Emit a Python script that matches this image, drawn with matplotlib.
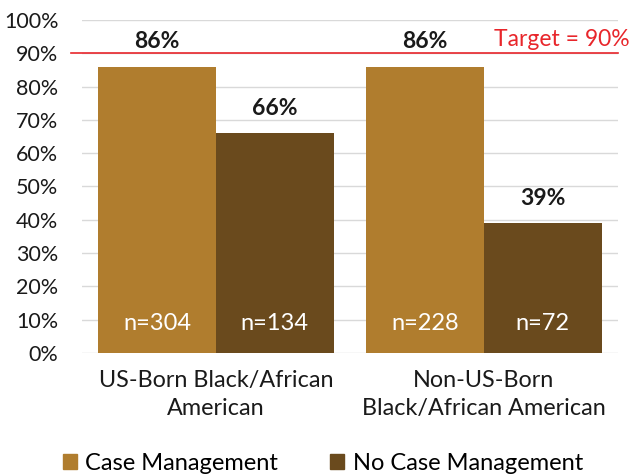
import numpy as np
import matplotlib
matplotlib.use("Agg")
import matplotlib.pyplot as plt
from matplotlib.patches import Patch

plt.rcParams['font.family'] = ['Lato', 'DejaVu Sans']

categories = ['US-Born Black/African\nAmerican', 'Non-US-Born\nBlack/African American']
series_names = ['Case Management', 'No Case Management']
case_mgmt = [86, 86]
no_case_mgmt = [66, 39]
n_case = [304, 228]
n_nocase = [134, 72]
target = 90
colors = ['#B07D2E', '#6A4A1D']

fig = plt.figure(figsize=(6.33, 4.76), dpi=100)
ax = fig.add_axes([0.1295, 0.2584, 0.8465, 0.6996])

x = np.arange(len(categories))
w = 0.44
b1 = ax.bar(x - w / 2, case_mgmt, w, color=colors[0], zorder=2)
b2 = ax.bar(x + w / 2, no_case_mgmt, w, color=colors[1], zorder=2)

for bars, vals, ns in [(b1, case_mgmt, n_case), (b2, no_case_mgmt, n_nocase)]:
    for rect, v, n in zip(bars, vals, ns):
        cx = rect.get_x() + rect.get_width() / 2
        ax.annotate('%d%%' % v, (cx, v), xytext=(0, 18), textcoords='offset points',
                    ha='center', va='center', fontsize=16.5, fontweight='bold', color='#1a1a1a')
        ax.text(cx, 9, 'n=%d' % n, ha='center', va='center', fontsize=17, color='white', zorder=3)

# target line, runs a bit left of the axes
ax.plot([-0.02, 1.0], [target, target], color='#E8262B', lw=1.2,
        transform=ax.get_yaxis_transform(), clip_on=False, zorder=3)
ax.text(1.022, target + 1.0, 'Target = 90%', color='#E8262B', fontsize=16.5,
        ha='right', va='bottom', transform=ax.get_yaxis_transform())

ax.set_xlim(-0.5, 1.5)
ax.set_ylim(0, 100)
ax.set_yticks(np.arange(0, 101, 10))
ax.set_yticklabels(['%d%%' % t for t in range(0, 101, 10)], fontsize=15.5, color='#1a1a1a')
ax.yaxis.grid(True, color='#D9D9D9', lw=1, zorder=0)
ax.set_axisbelow(True)
ax.tick_params(axis='y', length=0, pad=17)
ax.tick_params(axis='x', length=0, pad=12)
ax.set_xticks(x)
ax.set_xticklabels(categories, fontsize=16.8, color='#1a1a1a', linespacing=1.45)
for s in ax.spines.values():
    s.set_visible(False)

handles = [Patch(color=c) for c in colors]
fig.legend(handles, series_names, loc='lower center', bbox_to_anchor=(0.51, -0.04), ncol=2,
           frameon=False, fontsize=17, handlelength=0.6, handleheight=0.6,
           handletextpad=0.35, columnspacing=2.2)

fig.savefig('out.png', dpi=100)
